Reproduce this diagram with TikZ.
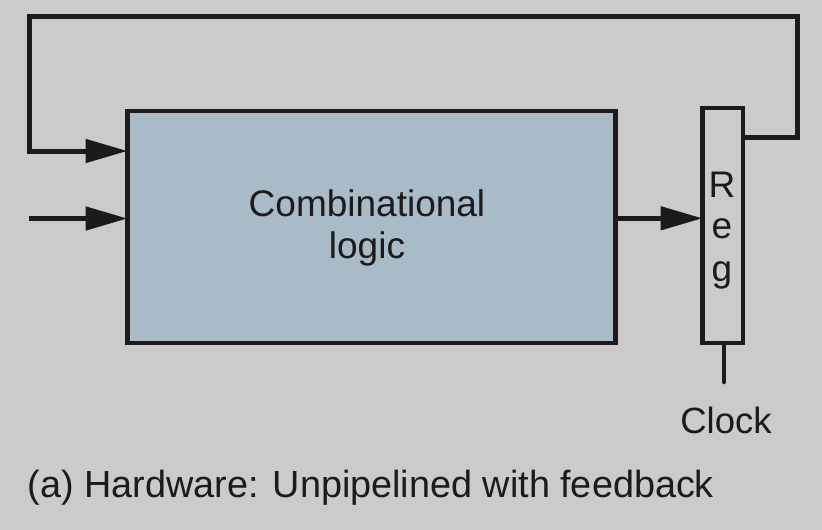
\documentclass[tikz,border=0pt]{standalone}
\usepackage{fontspec}
\setmainfont{Liberation Sans}
\usetikzlibrary{arrows.meta}
\definecolor{bggray}{HTML}{CBCBCB}
\definecolor{boxfill}{HTML}{A8BBC6}
\definecolor{ink}{HTML}{1C1A1A}
\tikzset{
  wire/.style={draw=ink, line width=5pt},
  arr/.style={wire, -{Triangle[length=42pt,width=23pt]}},
  blk/.style={draw=ink, line width=4.5pt, inner sep=0pt, outer sep=0pt},
  txt/.style={text=ink, inner sep=0pt, anchor=base, font=\fontsize{37}{42}\selectfont},
}
\begin{document}
\begin{tikzpicture}[x=1pt,y=-1pt]
\fill[bggray] (0,0) rectangle (822,530);
\useasboundingbox (0,0) rectangle (822,530);
% blocks
\node[blk, fill=boxfill, minimum width=488pt, minimum height=232pt] (comb) at (371.5,227) {};
\node[blk, minimum width=40.5pt, minimum height=235pt] (reg) at (722.75,225.5) {};
% texts
\node[txt] (t1) at (367,216.7) {Combinational};
\node[txt] (t2) at (367,258.3) {logic};
\node[txt] (rR) at (722,197.3) {R};
\node[txt] (rE) at (722,238.3) {e};
\node[txt] (rG) at (722,281.7) {g};
\node[txt, font=\fontsize{36.5}{42}\selectfont] (clk) at (726,433.3) {Clock};
\node[txt, anchor=base west, font=\fontsize{37.8}{44}\selectfont] (cap) at (27.5,497.7) {(a) Hardware: Unpipelined with feedback};
% coordinates
\coordinate (fbR) at (797,137);
\coordinate (fbTop) at (797,16.7);
\coordinate (fbL) at (29.5,16.7);
\coordinate (fbIn) at (29.5,151);
\coordinate (inS) at (29,218.5);
\coordinate (clkE) at (724,382);
% connectors
\draw[arr] (inS) -- (comb.west |- inS);
\draw[arr] (comb.east |- 0,218.3) -- (reg.west |- 0,218.3);
\draw[arr, line join=miter] (reg.east |- fbR) -- (fbR) -- (fbTop) -- (fbL) -- (fbIn) -- (comb.west |- fbIn);
\draw[draw=ink, line width=4.5pt, line cap=round] (reg.south -| clkE) -- (clkE);
\end{tikzpicture}
\end{document}
